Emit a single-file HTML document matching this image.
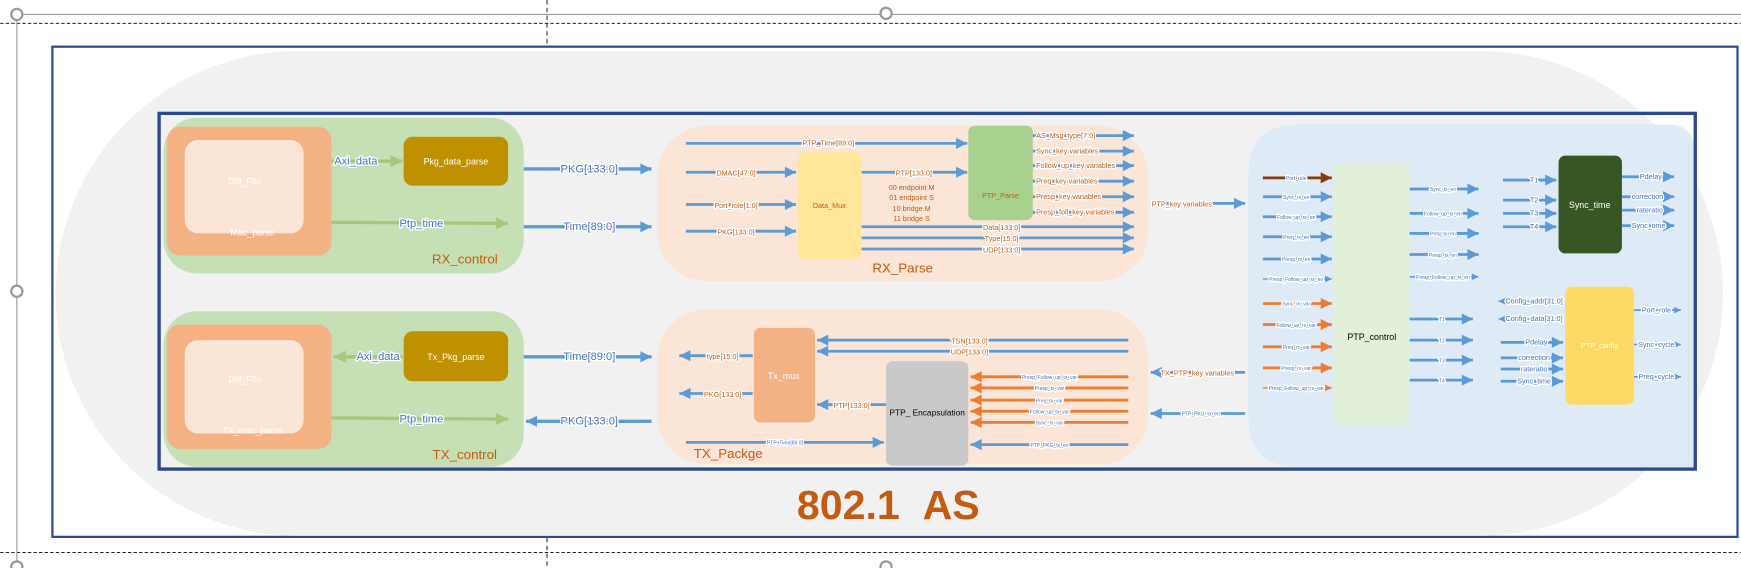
<!DOCTYPE html>
<html><head><meta charset="utf-8"><style>
html,body{margin:0;padding:0;background:#fff;}
svg{display:block;}
text{font-family:"Liberation Sans",sans-serif;}
.l{paint-order:stroke;stroke:#fff;stroke-width:2.5px;stroke-linejoin:round;}
</style></head><body>
<svg width="1741" height="568" viewBox="0 0 1566 511" xmlns="http://www.w3.org/2000/svg">
<defs>
<marker id="ab" viewBox="0 0 10 10" markerUnits="userSpaceOnUse" markerWidth="15" markerHeight="10" refX="10" refY="5" orient="auto"><path d="M0,0L10,5L0,10z" fill="#5b9bd5"/></marker>
<marker id="abs" viewBox="0 0 10 10" markerUnits="userSpaceOnUse" markerWidth="8" markerHeight="6" refX="10" refY="5" orient="auto"><path d="M0,0L10,5L0,10z" fill="#5b9bd5"/></marker>
<marker id="ao" viewBox="0 0 10 10" markerUnits="userSpaceOnUse" markerWidth="15" markerHeight="10" refX="10" refY="5" orient="auto"><path d="M0,0L10,5L0,10z" fill="#ed7d31"/></marker>
<marker id="aos" viewBox="0 0 10 10" markerUnits="userSpaceOnUse" markerWidth="8" markerHeight="6" refX="10" refY="5" orient="auto"><path d="M0,0L10,5L0,10z" fill="#ed7d31"/></marker>
<marker id="ag" viewBox="0 0 10 10" markerUnits="userSpaceOnUse" markerWidth="16" markerHeight="11" refX="10" refY="5" orient="auto"><path d="M0,0L10,5L0,10z" fill="#a9c77a"/></marker>
<marker id="abr" viewBox="0 0 10 10" markerUnits="userSpaceOnUse" markerWidth="15" markerHeight="10" refX="10" refY="5" orient="auto"><path d="M0,0L10,5L0,10z" fill="#843c0c"/></marker>
</defs>

<line x1="15" y1="13" x2="1566" y2="13" stroke="#999" stroke-width="1"/>
<line x1="0" y1="21" x2="1566" y2="21" stroke="#000" stroke-width="0.8" stroke-dasharray="3,2"/>
<line x1="0" y1="497" x2="1566" y2="497" stroke="#000" stroke-width="0.8" stroke-dasharray="3,2"/>
<line x1="492" y1="0" x2="492" y2="42" stroke="#000" stroke-width="0.8" stroke-dasharray="4,3"/>
<line x1="492" y1="484" x2="492" y2="511" stroke="#000" stroke-width="0.8" stroke-dasharray="4,3"/>
<line x1="15" y1="18" x2="15" y2="511" stroke="#999" stroke-width="1"/>
<g fill="#fff" stroke="#999" stroke-width="2">
<circle cx="15" cy="13" r="5"/><circle cx="797" cy="12" r="5"/><circle cx="15" cy="262" r="5"/><circle cx="15" cy="510" r="5"/><circle cx="797" cy="510" r="5"/>
</g>

<rect x="47" y="42" width="1516" height="441" fill="#fff" stroke="#2b4a8c" stroke-width="2"/>
<rect x="50" y="46" width="1500" height="436" rx="218" fill="#f1f1f1"/>

<rect x="147" y="106" width="324" height="140" rx="30" fill="#c5e0b4"/>
<rect x="150" y="114" width="148" height="116" rx="12" fill="#f4b183"/>
<rect x="166" y="126" width="107" height="84" rx="12" fill="#fbe5d6"/>
<text x="220" y="166" font-size="8" fill="#fff" text-anchor="middle">Diff_Fifo</text>
<text x="227" y="212" font-size="8" fill="#fff" text-anchor="middle">Mac_parse</text>
<rect x="363" y="123" width="94" height="44" rx="8" fill="#bf9000"/>
<text x="410" y="148" font-size="8" fill="#fff" text-anchor="middle">Pkg_data_parse</text>
<line x1="298" y1="145" x2="362" y2="145" stroke="#a9c77a" stroke-width="3" marker-end="url(#ag)"/>
<text x="320" y="148" font-size="10" fill="#4472c4" text-anchor="middle" class="l">Axi_data</text>
<line x1="298" y1="200" x2="457" y2="201" stroke="#a9c77a" stroke-width="3" marker-end="url(#ag)"/>
<text x="379" y="204" font-size="10" fill="#4472c4" text-anchor="middle" class="l">Ptp_time</text>
<text x="418" y="237" font-size="12" fill="#c55a11" text-anchor="middle">RX_control</text>

<rect x="147" y="280" width="324" height="140" rx="30" fill="#c5e0b4"/>
<rect x="150" y="292" width="148" height="112" rx="12" fill="#f4b183"/>
<rect x="166" y="306" width="107" height="84" rx="12" fill="#fbe5d6"/>
<text x="220" y="344" font-size="8" fill="#fff" text-anchor="middle">Diff_Fifo</text>
<text x="227" y="390" font-size="8" fill="#fff" text-anchor="middle">TX_mac_parse</text>
<rect x="363" y="298" width="94" height="45" rx="8" fill="#bf9000"/>
<text x="410" y="324" font-size="8" fill="#fff" text-anchor="middle">Tx_Pkg_parse</text>
<line x1="362" y1="321" x2="300" y2="321" stroke="#a9c77a" stroke-width="3" marker-end="url(#ag)"/>
<text x="340" y="324" font-size="10" fill="#4472c4" text-anchor="middle" class="l">Axi_data</text>
<line x1="298" y1="376" x2="457" y2="377" stroke="#a9c77a" stroke-width="3" marker-end="url(#ag)"/>
<text x="379" y="380" font-size="10" fill="#4472c4" text-anchor="middle" class="l">Ptp_time</text>
<text x="418" y="413" font-size="12" fill="#c55a11" text-anchor="middle">TX_control</text>

<g stroke="#5b9bd5" stroke-width="3">
<line x1="471" y1="152" x2="586" y2="152" marker-end="url(#ab)"/>
<line x1="471" y1="204" x2="586" y2="204" marker-end="url(#ab)"/>
<line x1="471" y1="321" x2="586" y2="321" marker-end="url(#ab)"/>
<line x1="586" y1="379" x2="473" y2="379" marker-end="url(#ab)"/>
</g>
<g font-size="10" fill="#4472c4" text-anchor="middle">
<text x="530" y="155" class="l">PKG[133:0]</text>
<text x="530" y="207" class="l">Time[89:0]</text>
<text x="530" y="324" class="l">Time[89:0]</text>
<text x="530" y="382" class="l">PKG[133:0]</text>
</g>

<rect x="591" y="113" width="442" height="140" rx="45" fill="#fbe5d6"/>
<text x="812" y="245" font-size="12" fill="#c55a11" text-anchor="middle">RX_Parse</text>
<rect x="718" y="137" width="57" height="96" rx="6" fill="#ffe699"/>
<text x="746" y="187" font-size="6.5" fill="#c55a11" text-anchor="middle">Data_Mux</text>
<rect x="871" y="113" width="58" height="85" rx="6" fill="#a9d18e"/>
<text x="900" y="178" font-size="6.5" fill="#c55a11" text-anchor="middle">PTP_Parse</text>
<g stroke="#5b9bd5" stroke-width="2.5">
<line x1="617" y1="129" x2="870" y2="129" marker-end="url(#ab)"/>
<line x1="617" y1="155" x2="716" y2="155" marker-end="url(#ab)"/>
<line x1="617" y1="184" x2="716" y2="184" marker-end="url(#ab)"/>
<line x1="617" y1="208" x2="716" y2="208" marker-end="url(#ab)"/>
<line x1="775" y1="155" x2="870" y2="155" marker-end="url(#ab)"/>
<line x1="929" y1="122" x2="1020" y2="122" marker-end="url(#ab)"/>
<line x1="929" y1="136" x2="1020" y2="136" marker-end="url(#ab)"/>
<line x1="929" y1="149" x2="1020" y2="149" marker-end="url(#ab)"/>
<line x1="929" y1="163" x2="1020" y2="163" marker-end="url(#ab)"/>
<line x1="929" y1="177" x2="1020" y2="177" marker-end="url(#ab)"/>
<line x1="929" y1="191" x2="1020" y2="191" marker-end="url(#ab)"/>
<line x1="775" y1="204" x2="1020" y2="204" marker-end="url(#ab)"/>
<line x1="775" y1="214" x2="1020" y2="214" marker-end="url(#ab)"/>
<line x1="775" y1="224" x2="1020" y2="224" marker-end="url(#ab)"/>
<line x1="1035" y1="183" x2="1120" y2="183" marker-end="url(#ab)"/>
</g>
<g font-size="6.5" fill="#c55a11" text-anchor="middle">
<text x="745" y="131" class="l">PTP_Time[89:0]</text>
<text x="662" y="158" class="l">DMAC[47:0]</text>
<text x="662" y="187" class="l">Port_role[1:0]</text>
<text x="662" y="211" class="l">PKG[133:0]</text>
<text x="822" y="158" class="l">PTP[133:0]</text>
<text x="901" y="207" class="l">Data[133:0]</text>
<text x="901" y="217" class="l">Type[15:0]</text>
<text x="901" y="227" class="l">UDP[133:0]</text>
<text x="820" y="171">00 endpoint M</text>
<text x="820" y="180">01 endpoint S</text>
<text x="820" y="190">10 bridge M</text>
<text x="820" y="199">11 bridge S</text>
<text x="1063" y="186" class="l">PTP_key variables</text>
</g>
<g font-size="6.5" fill="#c55a11" text-anchor="start">
<text x="932" y="124" class="l">AS_Msg_type[7:0]</text>
<text x="932" y="138" class="l">Sync_key variables</text>
<text x="932" y="151" class="l">Follow_up_key variables</text>
<text x="932" y="165" class="l">Preq_key variables</text>
<text x="932" y="179" class="l">Presp_key variables</text>
<text x="932" y="193" class="l">Presp_foll_key variables</text>
</g>

<rect x="591" y="278" width="442" height="140" rx="45" fill="#fbe5d6"/>
<text x="655" y="412" font-size="12" fill="#c55a11" text-anchor="middle">TX_Packge</text>
<rect x="678" y="295" width="55" height="85" rx="6" fill="#f4b183"/>
<text x="705" y="341" font-size="8" fill="#fff" text-anchor="middle">Tx_mux</text>
<rect x="797" y="325" width="74" height="94" rx="6" fill="#c9c9c9"/>
<text x="834" y="374" font-size="7.5" fill="#000" text-anchor="middle">PTP_ Encapsulation</text>
<g stroke="#5b9bd5" stroke-width="2.5">
<line x1="1015" y1="306" x2="735" y2="306" marker-end="url(#ab)"/>
<line x1="1015" y1="316" x2="735" y2="316" marker-end="url(#ab)"/>
<line x1="677" y1="320" x2="611" y2="320" marker-end="url(#ab)"/>
<line x1="677" y1="354" x2="611" y2="354" marker-end="url(#ab)"/>
<line x1="797" y1="364" x2="735" y2="364" marker-end="url(#ab)"/>
<line x1="617" y1="398" x2="795" y2="398" marker-end="url(#ab)"/>
<line x1="1015" y1="400" x2="873" y2="400" marker-end="url(#ab)"/>
<line x1="1120" y1="335" x2="1035" y2="335" marker-end="url(#ab)"/>
<line x1="1120" y1="372" x2="1035" y2="372" marker-end="url(#ab)"/>
</g>
<g stroke="#ed7d31" stroke-width="2.5">
<line x1="1015" y1="339" x2="873" y2="339" marker-end="url(#ao)"/>
<line x1="1015" y1="349" x2="873" y2="349" marker-end="url(#ao)"/>
<line x1="1015" y1="360" x2="873" y2="360" marker-end="url(#ao)"/>
<line x1="1015" y1="370" x2="873" y2="370" marker-end="url(#ao)"/>
<line x1="1015" y1="380" x2="873" y2="380" marker-end="url(#ao)"/>
</g>
<g font-size="6.5" fill="#c55a11" text-anchor="middle">
<text x="872" y="309" class="l">TSN[133:0]</text>
<text x="872" y="319" class="l">UDP[133:0]</text>
<text x="650" y="323" class="l">type[15:0]</text>
<text x="650" y="357" class="l">PKG[133:0]</text>
<text x="766" y="367" class="l">PTP[133:0]</text>
<text x="1077" y="338" class="l">TX_PTP_key variables</text>
</g>
<g font-size="4.5" fill="#4472c4" text-anchor="middle">
<text x="944" y="341" class="l">Presp_Follow_up_tx_var</text>
<text x="944" y="351" class="l">Presp_tx_var</text>
<text x="944" y="362" class="l">Preq_tx_var</text>
<text x="944" y="372" class="l">Follow_up_tx_var</text>
<text x="944" y="382" class="l">Sync_tx_var</text>
<text x="944" y="402" class="l">PTP_PKG_tx_en</text>
<text x="706" y="400" class="l">PTP_Time[89:0]</text>
<text x="1080" y="374" class="l">PTP_PKG_tx_en</text>
</g>

<path d="M1168,112 L1500,112 Q1525,112 1525,140 L1525,420 L1168,420 Q1123,420 1123,375 L1123,157 Q1123,112 1168,112z" fill="#deebf7"/>
<rect x="1200" y="147" width="68" height="236" rx="6" fill="#e2f0d9"/>
<text x="1234" y="306" font-size="8" fill="#000" text-anchor="middle">PTP_control</text>
<line x1="1136" y1="160" x2="1198" y2="160" stroke="#843c0c" stroke-width="2.5" marker-end="url(#abr)"/>
<g stroke="#5b9bd5" stroke-width="2.5">
<line x1="1136" y1="177" x2="1198" y2="177" marker-end="url(#ab)"/>
<line x1="1136" y1="195" x2="1198" y2="195" marker-end="url(#ab)"/>
<line x1="1136" y1="213" x2="1198" y2="213" marker-end="url(#ab)"/>
<line x1="1136" y1="233" x2="1198" y2="233" marker-end="url(#ab)"/>
<line x1="1136" y1="251" x2="1198" y2="251" stroke-width="1.2" marker-end="url(#abs)"/>
<line x1="1268" y1="170" x2="1330" y2="170" marker-end="url(#ab)"/>
<line x1="1268" y1="192" x2="1330" y2="192" marker-end="url(#ab)"/>
<line x1="1268" y1="210" x2="1330" y2="210" marker-end="url(#ab)"/>
<line x1="1268" y1="229" x2="1330" y2="229" marker-end="url(#ab)"/>
<line x1="1268" y1="249" x2="1330" y2="249" stroke-width="1.2" marker-end="url(#abs)"/>
<line x1="1268" y1="287" x2="1325" y2="287" marker-end="url(#ab)"/>
<line x1="1268" y1="306" x2="1325" y2="306" marker-end="url(#ab)"/>
<line x1="1268" y1="324" x2="1325" y2="324" marker-end="url(#ab)"/>
<line x1="1268" y1="342" x2="1325" y2="342" marker-end="url(#ab)"/>
</g>
<g stroke="#ed7d31" stroke-width="2.5">
<line x1="1136" y1="273" x2="1198" y2="273" marker-end="url(#ao)"/>
<line x1="1136" y1="292" x2="1198" y2="292" marker-end="url(#ao)"/>
<line x1="1136" y1="312" x2="1198" y2="312" marker-end="url(#ao)"/>
<line x1="1136" y1="331" x2="1198" y2="331" marker-end="url(#ao)"/>
<line x1="1136" y1="349" x2="1198" y2="349" stroke-width="1.2" marker-end="url(#aos)"/>
</g>
<g font-size="4.5" fill="#4472c4" text-anchor="middle">
<text x="1166" y="162" class="l">Port_role</text>
<text x="1166" y="179" class="l">Sync_rx_en</text>
<text x="1166" y="197" class="l">Follow_up_rx_en</text>
<text x="1166" y="215" class="l">Preq_rx_en</text>
<text x="1166" y="235" class="l">Presp_rx_en</text>
<text x="1166" y="253" class="l">Presp_Follow_up_rx_en</text>
<text x="1166" y="275" class="l">Sync_rx_var</text>
<text x="1166" y="294" class="l">Follow_up_rx_var</text>
<text x="1166" y="314" class="l">Preq_rx_var</text>
<text x="1166" y="333" class="l">Presp_rx_var</text>
<text x="1166" y="351" class="l">Presp_Follow_up_rx_var</text>
<text x="1298" y="172" class="l">Sync_tx_en</text>
<text x="1298" y="194" class="l">Follow_up_tx_en</text>
<text x="1298" y="212" class="l">Preq_tx_en</text>
<text x="1298" y="231" class="l">Presp_tx_en</text>
<text x="1298" y="251" class="l">Presp_Follow_up_tx_en</text>
<text x="1297" y="289" class="l">T1</text>
<text x="1297" y="308" class="l">T2</text>
<text x="1297" y="326" class="l">T3</text>
<text x="1297" y="344" class="l">T4</text>
</g>

<rect x="1402" y="140" width="57" height="88" rx="6" fill="#375623"/>
<text x="1430" y="187" font-size="8" fill="#fff" text-anchor="middle">Sync_time</text>
<g stroke="#5b9bd5" stroke-width="2.5">
<line x1="1352" y1="162" x2="1400" y2="162" marker-end="url(#ab)"/>
<line x1="1352" y1="180" x2="1400" y2="180" marker-end="url(#ab)"/>
<line x1="1352" y1="192" x2="1400" y2="192" marker-end="url(#ab)"/>
<line x1="1352" y1="204" x2="1400" y2="204" marker-end="url(#ab)"/>
<line x1="1459" y1="159" x2="1506" y2="159" marker-end="url(#ab)"/>
<line x1="1459" y1="177" x2="1506" y2="177" marker-end="url(#ab)"/>
<line x1="1459" y1="189" x2="1506" y2="189" marker-end="url(#ab)"/>
<line x1="1459" y1="203" x2="1506" y2="203" marker-end="url(#ab)"/>
</g>
<g font-size="6.5" fill="#4472c4" text-anchor="middle">
<text x="1380" y="164" class="l">T1</text>
<text x="1380" y="182" class="l">T2</text>
<text x="1380" y="194" class="l">T3</text>
<text x="1380" y="206" class="l">T4</text>
<text x="1485" y="161" class="l">Pdelay</text>
<text x="1482" y="179" class="l">correction</text>
<text x="1484" y="191" class="l">rateratio</text>
<text x="1483" y="205" class="l">Sync_time</text>
</g>

<rect x="1408" y="258" width="62" height="106" rx="6" fill="#ffd966"/>
<text x="1439" y="313" font-size="6.5" fill="#fff" text-anchor="middle">PTP_config</text>
<g stroke="#5b9bd5" stroke-width="2.5">
<line x1="1406" y1="271" x2="1348" y2="271" stroke-width="1.2" marker-end="url(#abs)"/>
<line x1="1406" y1="287" x2="1348" y2="287" stroke-width="1.2" marker-end="url(#abs)"/>
<line x1="1350" y1="308" x2="1406" y2="308" marker-end="url(#ab)"/>
<line x1="1350" y1="322" x2="1406" y2="322" marker-end="url(#ab)"/>
<line x1="1350" y1="332" x2="1406" y2="332" marker-end="url(#ab)"/>
<line x1="1350" y1="343" x2="1406" y2="343" marker-end="url(#ab)"/>
<line x1="1470" y1="279" x2="1512" y2="279" stroke-width="1.5" marker-end="url(#abs)"/>
<line x1="1470" y1="310" x2="1512" y2="310" stroke-width="1.5" marker-end="url(#abs)"/>
<line x1="1470" y1="339" x2="1512" y2="339" stroke-width="1.5" marker-end="url(#abs)"/>
</g>
<g font-size="6.5" fill="#4472c4" text-anchor="middle">
<text x="1380" y="273" class="l">Config_addr[31:0]</text>
<text x="1380" y="289" class="l">Config_data[31:0]</text>
<text x="1382" y="310" class="l">Pdelay</text>
<text x="1380" y="324" class="l">correction</text>
<text x="1380" y="334" class="l">rateratio</text>
<text x="1380" y="345" class="l">Sync_time</text>
<text x="1490" y="281" class="l">Port_role</text>
<text x="1490" y="312" class="l">Sync_cycle</text>
<text x="1490" y="341" class="l">Preq_cycle</text>
</g>

<rect x="143" y="102" width="1382" height="320" fill="none" stroke="#2b4a8c" stroke-width="3"/>

<text x="799" y="467" font-size="37" font-weight="bold" fill="#c55a11" text-anchor="middle">802.1&#160;&#160;AS</text>
</svg>
</body></html>
